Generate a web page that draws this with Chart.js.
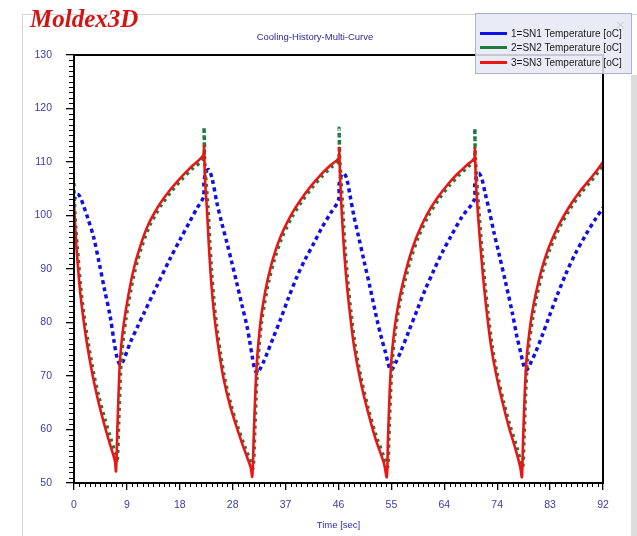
<!DOCTYPE html>
<html>
<head>
<meta charset="utf-8">
<script src="https://cdn.jsdelivr.net/npm/chart.js@4.4.1/dist/chart.umd.min.js"></script>
<style>
  html, body { margin: 0; padding: 0; background: #fff; }
  #wrap { position: relative; width: 637px; height: 536px; overflow: hidden; background: #fff; }
  #frame { position: absolute; left: 22px; top: 14px; width: 640px; height: 540px;
           border-left: 1px solid #d6d6d6; border-top: 1px solid #d6d6d6; }
  #rstrip { position: absolute; left: 631px; top: 75px; width: 6px; height: 461px; background: #dcdcdc; }
  canvas { position: absolute; left: 0; top: 0; }
  #logo { position: absolute; left: 30px; top: 5px; line-height: 25px; white-space: nowrap;
          font: italic bold 25px "Liberation Serif", serif; color: #d41414; }
  #title { position: absolute; left: 215px; top: 31px; width: 200px; text-align: center;
           font: 9.5px "Liberation Sans", sans-serif; line-height: 12px; color: #2a2a9c; }
  #legend { position: absolute; left: 475px; top: 13px; width: 157px; height: 61px;
            background: rgba(229, 232, 244, 0.86); border: 1px solid #aeb2c8; box-sizing: border-box; }
  .item { position: absolute; left: 4px; height: 12px; white-space: nowrap;
          font: 10px "Liberation Sans", sans-serif; line-height: 12px; color: #1a1a1a; }
  .swatch { display: inline-block; width: 27px; height: 3px; vertical-align: middle; margin-right: 4px; position: relative; top: -1px; }
  #close { position: absolute; right: 5px; top: 3px; font: 13px "DejaVu Sans", sans-serif; color: #cfd0da; }
</style>
</head>
<body>
<div id="wrap">
  <div id="frame"></div>
  <div id="rstrip"></div>
  <canvas id="chart" width="637" height="536"></canvas>
  <div id="logo">Moldex3D</div>
  <div id="title">Cooling-History-Multi-Curve</div>
  <div id="legend"><span id="close">×</span></div>
</div>
<script>
// Series names and colours
const seriesNames = ['1=SN1 Temperature [oC]', '2=SN2 Temperature [oC]', '3=SN3 Temperature [oC]'];
const seriesColors = ['#1010e6', '#1f7a3c', '#ee1414'];

// SN1 temperature history (time in s, temperature in oC), one line per cooling / heating stretch
const timeSN1 = [
  0, 0.3, 0.6, 1.05, 1.6, 2.4, 3.4, 4.4, 5.3, 6.3, 7.0, 7.5, 8.0,
  8.4, 8.9, 9.8, 11.0, 12.1, 14.4, 16.7, 18.5, 20.2, 21.4, 22.5,
  22.6, 22.9, 23.4, 24.0, 24.86, 25.7, 26.6, 27.45, 28.3, 29.2, 30.1, 30.6, 31.0, 31.4, 31.83,
  32.3, 32.9, 33.57, 34.7, 35.89, 37.3, 38.79, 40.2, 41.7, 43.1, 44.6, 46.0,
  46.1, 46.4, 46.9, 47.4, 48.0, 48.66, 49.5, 50.4, 51.5, 52.7, 53.5, 54.2, 54.6, 55.05,
  55.5, 56.0, 56.8, 58.2, 59.7, 61.1, 62.6, 64.0, 65.5, 67.5, 69.6,
  69.7, 70.0, 70.4, 70.9, 71.5, 72.2, 73.0, 73.9, 75.1, 76.25, 77.0, 77.7, 78.1, 78.6,
  79.0, 79.5, 80.3, 81.4, 82.6, 84.0, 85.5, 87.2, 89.0, 90.6, 92.0
];
const tempSN1 = [
  102.8, 103.6, 104.0, 103.5, 102.0, 99.5, 96.0, 91.0, 86.2, 81.1, 76.2, 73.4, 72.1,
  72.5, 73.7, 76.3, 79.1, 81.6, 86.8, 91.9, 95.6, 99.0, 101.4, 103.4,
  106.2, 107.9, 108.6, 107.0, 102.3, 98.6, 94.9, 91.2, 87.4, 83.3, 79.2, 76.2, 73.6, 71.4, 70.5,
  71.2, 72.5, 74.2, 77.3, 80.5, 84.6, 88.6, 91.8, 94.8, 97.7, 100.4, 102.9,
  105.8, 107.3, 107.9, 107.0, 103.8, 100.0, 96.0, 91.7, 86.5, 80.5, 77.0, 74.3, 72.5, 71.1,
  71.5, 72.6, 74.5, 78.3, 82.4, 86.2, 89.8, 93.0, 96.0, 99.8, 102.9,
  105.8, 107.3, 107.9, 107.0, 104.2, 101.0, 97.0, 92.9, 87.3, 81.7, 77.5, 74.3, 72.4, 71.1,
  71.5, 72.6, 74.5, 77.5, 81.0, 85.0, 89.0, 92.9, 96.4, 99.2, 101.4
];

// SN2 temperature history
const timeSN2 = [
  0, 0.05, 0.3, 0.6, 1.1, 1.7, 2.4, 3.5, 4.4, 5.3, 6.3, 7.2, 7.5,
  7.8, 8.1, 8.3, 8.6, 9.0, 9.4, 9.9, 10.4, 11.0, 11.7, 12.4, 13.2, 14.2, 15.2, 17.0, 18.7, 20.7, 22.5, 22.6, 22.7,
  22.95, 23.3, 23.6, 23.9, 24.3, 24.8, 25.5, 26.2, 27.3, 28.5, 29.7, 30.8, 31.15,
  31.45, 31.75, 32.05, 32.55, 33.1, 33.8, 34.8, 36.1, 37.8, 39.6, 41.4, 43.1, 44.7, 46.0, 46.1, 46.2,
  46.45, 46.8, 47.2, 47.7, 48.2, 48.9, 50.0, 51.2, 52.6, 54.0, 54.55,
  54.75, 55.05, 55.35, 55.75, 56.25, 56.85, 57.6, 58.6, 59.9, 61.6, 63.4, 65.2, 66.9, 68.5, 69.6, 69.7, 69.8,
  70.05, 70.5, 71.0, 71.5, 72.0, 72.7, 73.6, 74.7, 75.8, 77.0, 77.75, 78.05,
  78.25, 78.55, 78.85, 79.25, 79.8, 80.5, 81.5, 82.8, 84.5, 86.3, 88.1, 89.8, 91.2, 92.0
];
const tempSN2 = [
  106.0, 103.0, 97.8, 93.8, 87.3, 81.7, 76.6, 70.0, 65.8, 62.2, 58.6, 55.4, 53.8,
  62.0, 70.8, 74.0, 77.3, 80.5, 83.2, 86.2, 88.8, 91.4, 93.9, 96.1, 98.2, 100.2, 102.0, 104.6, 106.7, 108.9, 110.6, 116.5, 111.0,
  106.5, 101.5, 95.5, 90.0, 84.5, 79.4, 74.0, 69.6, 64.6, 60.4, 56.8, 53.8, 52.8,
  60.0, 68.3, 73.8, 79.6, 83.4, 87.4, 91.6, 95.7, 99.5, 102.6, 105.2, 107.3, 109.0, 110.3, 116.3, 111.0,
  106.5, 100.0, 93.0, 86.6, 81.6, 75.6, 69.2, 63.8, 58.6, 54.6, 53.0,
  58.0, 66.8, 72.8, 77.2, 81.2, 84.7, 88.0, 92.0, 96.0, 99.9, 103.0, 105.5, 107.5, 109.1, 110.3, 116.3, 111.0,
  106.5, 99.6, 92.8, 86.8, 81.8, 75.8, 70.4, 65.2, 60.8, 56.7, 53.8, 53.0,
  58.0, 66.8, 72.8, 77.0, 81.0, 85.0, 89.5, 93.8, 97.9, 101.3, 104.1, 106.3, 108.2, 109.4
];

// SN3 temperature history
const timeSN3 = [
  0, 0.25, 0.5, 1.0, 1.5, 2.2, 3.3, 4.2, 5.1, 6.1, 7.1, 7.3,
  7.6, 7.9, 8.1, 8.4, 8.8, 9.2, 9.7, 10.2, 10.8, 11.5, 12.2, 13.0, 14.0, 15.0, 16.8, 18.5, 20.5, 22.5, 22.6,
  22.8, 23.1, 23.4, 23.7, 24.1, 24.6, 25.3, 26.0, 27.1, 28.3, 29.5, 30.7, 31.0,
  31.3, 31.6, 31.9, 32.4, 32.9, 33.6, 34.6, 35.9, 37.6, 39.4, 41.2, 42.9, 44.5, 46.0, 46.1,
  46.3, 46.6, 47.0, 47.5, 48.0, 48.7, 49.8, 51.0, 52.4, 53.9, 54.4,
  54.6, 54.9, 55.2, 55.6, 56.1, 56.7, 57.4, 58.4, 59.7, 61.4, 63.2, 65.0, 66.7, 68.3, 69.6, 69.7,
  69.9, 70.3, 70.8, 71.3, 71.8, 72.5, 73.4, 74.5, 75.6, 76.8, 77.6, 77.9,
  78.1, 78.4, 78.7, 79.1, 79.6, 80.3, 81.3, 82.6, 84.3, 86.1, 87.9, 89.6, 91.0, 92.0
];
const tempSN3 = [
  102.5, 97.0, 93.0, 86.5, 81.8, 76.4, 69.8, 65.4, 61.6, 57.8, 54.2, 52.2,
  62.0, 71.0, 74.3, 77.6, 80.8, 83.5, 86.5, 89.1, 91.7, 94.2, 96.4, 98.5, 100.5, 102.3, 104.9, 107.0, 109.2, 111.3, 113.0,
  106.5, 101.5, 95.5, 90.0, 84.5, 79.4, 74.0, 69.6, 64.6, 60.4, 56.6, 53.0, 51.2,
  60.0, 68.5, 74.0, 79.8, 83.6, 87.6, 91.9, 96.0, 99.8, 102.9, 105.5, 107.6, 109.3, 110.7, 112.6,
  106.5, 100.0, 93.0, 86.6, 81.6, 75.6, 69.2, 63.8, 58.4, 53.7, 51.1,
  58.0, 67.0, 73.0, 77.5, 81.5, 85.0, 88.3, 92.3, 96.3, 100.2, 103.3, 105.8, 107.8, 109.4, 110.7, 112.6,
  106.5, 99.6, 92.8, 86.8, 81.8, 75.8, 70.4, 65.2, 60.6, 56.3, 53.0, 51.1,
  58.0, 67.0, 73.0, 77.3, 81.3, 85.3, 89.8, 94.1, 98.2, 101.6, 104.4, 106.6, 108.5, 110.0
];

// Axis ticks
const xTickValues = [0, 9.2, 18.4, 27.6, 36.8, 46, 55.2, 64.4, 73.6, 82.8, 92];
const xTickLabels = ['0', '9', '18', '28', '37', '46', '55', '64', '74', '83', '92'];
const yMin = 50, yMax = 130, yMajorStep = 10, yMinorStep = 1;
const xMinorStep = 0.92;

const pairs = (ts, vs) => ts.map((t, i) => ({ x: t, y: vs[i] }));

// HTML legend
const legendEl = document.getElementById('legend');
const rowTops = [14, 28, 43];
seriesNames.forEach((name, i) => {
  const row = document.createElement('div');
  row.className = 'item';
  row.style.top = rowTops[i] + 'px';
  const sw = document.createElement('span');
  sw.className = 'swatch';
  sw.style.background = seriesColors[i];
  row.appendChild(sw);
  row.appendChild(document.createTextNode(name));
  legendEl.appendChild(row);
});

// Plot frame and minor tick marks
const frameAndMinorTicks = {
  id: 'frameAndMinorTicks',
  afterDraw(chart) {
    const { ctx, chartArea: a, scales } = chart;
    const x = scales.x, y = scales.y;
    ctx.save();
    ctx.strokeStyle = '#000';
    ctx.lineWidth = 1;
    ctx.beginPath();
    const nY = Math.round((yMax - yMin) / yMinorStep);
    for (let i = 0; i <= nY; i++) {
      if (i % 10 === 0) continue;
      const py = Math.round(y.getPixelForValue(yMin + i * yMinorStep)) + 0.5;
      ctx.moveTo(a.left - 5, py);
      ctx.lineTo(a.left, py);
    }
    for (let i = 0; i <= 100; i++) {
      if (i % 10 === 0) continue;
      const px = Math.round(x.getPixelForValue(i * xMinorStep)) + 0.5;
      ctx.moveTo(px, a.bottom);
      ctx.lineTo(px, a.bottom + 4);
    }
    ctx.stroke();
    ctx.lineWidth = 2;
    ctx.strokeRect(a.left, a.top, a.right - a.left, a.bottom - a.top);
    ctx.restore();
  }
};

const tickFont = { family: 'Liberation Sans', size: 10.5 };
const tickColor = '#3b3ba8';

new Chart(document.getElementById('chart'), {
  type: 'line',
  data: {
    datasets: [
      {
        label: seriesNames[0], data: pairs(timeSN1, tempSN1),
        borderColor: seriesColors[0], borderWidth: 3.5, borderDash: [4, 3.5],
        pointRadius: 0, tension: 0.3, order: 3
      },
      {
        label: seriesNames[1], data: pairs(timeSN2, tempSN2),
        borderColor: seriesColors[1], borderWidth: 3.5, borderDash: [3, 4],
        pointRadius: 0, tension: 0.3, order: 2
      },
      {
        label: seriesNames[2], data: pairs(timeSN3, tempSN3),
        borderColor: seriesColors[2], borderWidth: 2.6,
        pointRadius: 0, tension: 0.3, order: 1
      }
    ]
  },
  options: {
    responsive: false,
    animation: false,
    events: [],
    layout: { padding: { left: 22, right: 34, top: 55, bottom: 1 } },
    plugins: { legend: { display: false }, title: { display: false }, tooltip: { enabled: false } },
    scales: {
      x: {
        type: 'linear', min: 0, max: 92,
        afterBuildTicks: s => { s.ticks = xTickValues.map(v => ({ value: v })); },
        afterFit: s => { s.height = 52; },
        ticks: {
          autoSkip: false, maxRotation: 0, padding: 9,
          font: tickFont, color: tickColor,
          callback: (v, i) => xTickLabels[i]
        },
        grid: { drawOnChartArea: false, drawTicks: true, tickLength: 7, color: '#000', lineWidth: 1.3 },
        border: { display: false },
        title: {
          display: true, text: 'Time [sec]', color: '#2a2ab0',
          font: { family: 'Liberation Sans', size: 9.5 }, padding: { top: 0, bottom: 4 }
        }
      },
      y: {
        type: 'linear', min: yMin, max: yMax,
        afterFit: s => { s.width = 52; },
        ticks: { stepSize: yMajorStep, padding: 14, font: tickFont, color: tickColor },
        grid: { drawOnChartArea: false, drawTicks: true, tickLength: 8, color: '#000', lineWidth: 1.3 },
        border: { display: false }
      }
    }
  },
  plugins: [frameAndMinorTicks]
});
</script>
</body>
</html>
